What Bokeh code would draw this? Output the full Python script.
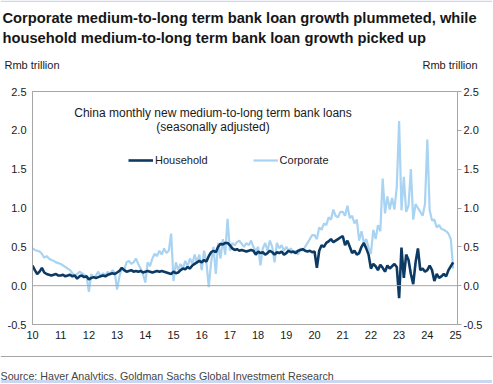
from bokeh.plotting import figure
from bokeh.layouts import column
from bokeh.models import Range1d, LinearAxis, FixedTicker, Span, Label, Legend, LegendItem, BoxAnnotation, ColumnDataSource
from bokeh.embed import file_html
from bokeh.resources import INLINE

start_year = 2010
household = [
    0.26, 0.20, 0.15, 0.18, 0.23, 0.17, 0.15, 0.14, 0.13, 0.14, 0.15, 0.13,
    0.13, 0.14, 0.12, 0.13, 0.14, 0.12, 0.13, 0.09, 0.12, 0.13, 0.11, 0.12,
    0.08, 0.10, 0.11, 0.10, 0.11, 0.12, 0.13, 0.12, 0.14, 0.15, 0.16, 0.15,
    0.17, 0.19, 0.23, 0.20, 0.18, 0.19, 0.20, 0.18, 0.19, 0.18, 0.19, 0.17,
    0.18, 0.19, 0.18, 0.17, 0.18, 0.19, 0.18, 0.19, 0.18, 0.17, 0.16, 0.15,
    0.18, 0.16, 0.17, 0.20, 0.22, 0.21, 0.24, 0.22, 0.26, 0.28, 0.30, 0.32,
    0.30, 0.33, 0.31, 0.38, 0.43, 0.45, 0.43, 0.50, 0.54, 0.53, 0.55, 0.55,
    0.52, 0.48, 0.46, 0.47, 0.45, 0.46, 0.45, 0.44, 0.45, 0.46, 0.45, 0.40,
    0.44, 0.42, 0.43, 0.40, 0.42, 0.45, 0.43, 0.40, 0.43, 0.42, 0.44, 0.40,
    0.42, 0.45, 0.43, 0.44, 0.42, 0.45, 0.46, 0.47, 0.45, 0.44, 0.45, 0.43,
    0.44, 0.23, 0.45, 0.52, 0.50, 0.55, 0.57, 0.60, 0.56, 0.58, 0.60, 0.62,
    0.64, 0.52, 0.58, 0.50, 0.42, 0.45, 0.40, 0.42, 0.50, 0.55, 0.48, 0.40,
    0.22, 0.28, 0.25, 0.20, 0.27, 0.23, 0.18, 0.26, 0.22, 0.25, 0.28, 0.24,
    -0.16, 0.49, 0.10, 0.40, 0.33, 0.15, 0.02, 0.30, 0.48, 0.20, 0.22, 0.18,
    0.20, 0.26, 0.20, 0.06, 0.15, 0.10, 0.12, 0.15, 0.12, 0.20, 0.25, 0.30,
]
corporate = [
    0.48, 0.46, 0.45, 0.44, 0.41, 0.36, 0.38, 0.35, 0.33, 0.32, 0.30, 0.29,
    0.28, 0.26, 0.24, 0.22, 0.20, 0.16, 0.13, 0.15, 0.18, 0.16, 0.14, 0.12,
    -0.08, 0.15, 0.10, 0.13, 0.18, 0.12, 0.16, 0.13, 0.18, 0.14, 0.20, 0.17,
    -0.05, 0.12, 0.23, 0.20, 0.30, 0.32, 0.28, 0.30, 0.35, 0.28, 0.22, 0.15,
    0.04, 0.30, 0.25, 0.35, 0.41, 0.38, 0.45, 0.40, 0.48, 0.42, 0.45, 0.67,
    0.06, 0.30, 0.20, 0.28, 0.22, 0.32, 0.25, 0.35, 0.28, 0.40, 0.30, 0.40,
    0.20, 0.45, 0.30, -0.02, 0.30, 0.50, 0.15, 0.55, 0.35, 0.60, 0.40, 0.86,
    0.45, 0.55, 0.52, 0.56, 0.58, 0.54, 0.50, 0.55, 0.52, 0.58, 0.50, 0.45,
    0.50, 0.26, 0.48, 0.55, 0.45, 0.58, 0.50, 0.30, 0.55, 0.48, 0.52, 0.45,
    0.50, 0.45, 0.48, 0.42, 0.45, 0.40, 0.48, 0.45, 0.50, 0.55, 0.60, 0.65,
    0.65, 0.60, 0.75, 0.72, 0.80, 0.78, 0.88, 0.85, 0.98, 0.90, 0.88, 0.95,
    0.95, 0.90, 1.03, 0.87, 0.90, 0.80, 0.85, 0.58, 0.70, 0.55, 0.60, 0.49,
    0.41, 0.72, 0.60, 0.78, 0.70, 1.38, 0.93, 1.15, 0.98, 1.13, 0.98, 1.27,
    2.12, 0.97, 1.40, 0.95, 1.03, 1.50, 0.85, 1.05, 1.00, 0.95, 0.90, 1.05,
    1.88, 0.97, 0.84, 0.85, 0.75, 0.78, 0.73, 0.72, 0.70, 0.67, 0.60, 0.22,
]
x_ticks = list(range(2010, 2026))
x_tick_labels = ["10", "11", "12", "13", "14", "15", "16", "17", "18", "19",
                 "20", "21", "22", "23", "24", "25"]
y_ticks = [-0.5, 0.0, 0.5, 1.0, 1.5, 2.0, 2.5]
y_tick_labels = ["-0.5", "0.0", "0.5", "1.0", "1.5", "2.0", "2.5"]
title_lines = ["Corporate medium-to-long term bank loan growth plummeted, while",
               "household medium-to-long term bank loan growth picked up"]
unit_label = "Rmb trillion"
chart_note = ["China monthly new medium-to-long term bank loans", "(seasonally adjusted)"]
source_text = "Source: Haver Analytics, Goldman Sachs Global Investment Research"

months = [start_year + i / 12 for i in range(len(household))]
src = ColumnDataSource(dict(x=months, hh=household, corp=corporate))

W = 492
AX = "#a6a6a6"
FONT = "Liberation Sans"
BAND = "#c8d8f0"


def blank(height):
    f = figure(width=W, height=height, output_backend="svg", toolbar_location=None,
               x_range=Range1d(0, W), y_range=Range1d(height, 0),
               x_axis_type=None, y_axis_type=None, frame_align=False,
               min_border=0, min_border_left=0, min_border_right=0,
               min_border_top=0, min_border_bottom=0)
    f.grid.visible = False
    f.outline_line_color = None
    f.background_fill_color = "white"
    f.border_fill_color = "white"
    return f


def lab(f, text, x, y, size, font=FONT, style="normal", align="left",
        baseline="middle", color="#1a1a1a", units="data"):
    f.add_layout(Label(x=x, y=y, x_units=units, y_units=units, text=text,
                       text_font=font, text_font_size=size, text_font_style=style,
                       text_align=align, text_baseline=baseline, text_color=color))


# ---------- header ----------
H1 = 76
head = blank(H1)
head.add_layout(BoxAnnotation(top=0, bottom=1.5, fill_color=BAND, fill_alpha=1, line_alpha=0))
lab(head, title_lines[0], 2, 17, "14.7px", style="bold", baseline="alphabetic", color="#161616")
lab(head, title_lines[1], 2, 37, "14.7px", style="bold", baseline="alphabetic", color="#161616")
lab(head, unit_label, 4, 64, "11px")
lab(head, unit_label, 477, 64, "11px", align="right")

# ---------- main chart ----------
H2 = 274
p = figure(width=W, height=H2, output_backend="svg", toolbar_location=None,
           x_range=Range1d(2010, 2025.07), y_range=Range1d(-0.5, 2.5), frame_align=False,
           min_border_left=32, min_border_right=W - 457, min_border_top=15, min_border_bottom=26)
p.grid.visible = False
p.outline_line_color = AX
p.background_fill_color = "white"
p.border_fill_color = "white"

xa = p.xaxis[0]
xa.ticker = FixedTicker(ticks=x_ticks)
xa.major_label_overrides = {t: l for t, l in zip(x_ticks, x_tick_labels)}
xa.major_tick_line_color = None
xa.major_tick_out = 0
xa.major_tick_in = 0
xa.minor_tick_line_color = None
xa.axis_line_color = AX
xa.major_label_standoff = 6
xa.major_label_text_font = FONT
xa.major_label_text_font_size = "11px"
xa.major_label_text_color = "#1a1a1a"

ya = p.yaxis[0]
ya.ticker = FixedTicker(ticks=y_ticks)
ya.major_label_overrides = {t: l for t, l in zip(y_ticks, y_tick_labels)}
ya.major_tick_line_color = None
ya.major_tick_out = 0
ya.major_tick_in = 0
ya.minor_tick_line_color = None
ya.axis_line_color = AX
ya.major_label_standoff = 6
ya.major_label_text_font = FONT
ya.major_label_text_font_size = "11px"
ya.major_label_text_color = "#1a1a1a"

yr = LinearAxis(ticker=FixedTicker(ticks=y_ticks),
                major_label_overrides={t: l for t, l in zip(y_ticks, y_tick_labels)},
                major_tick_out=4, major_tick_in=0, major_tick_line_color=AX,
                minor_tick_line_color=None, axis_line_color=AX, major_label_standoff=2,
                major_label_text_font=FONT, major_label_text_font_size="11px",
                major_label_text_color="#1a1a1a")
p.add_layout(yr, "right")

p.add_layout(Span(location=0, dimension="width", line_color=AX, line_width=1))

r_corp = p.line("x", "corp", source=src, line_color="#a9d3f2", line_width=2.2)
r_hh = p.line("x", "hh", source=src, line_color="#0d3a63", line_width=2.6)

legend = Legend(items=[LegendItem(label="Household", renderers=[r_hh]),
                       LegendItem(label="Corporate", renderers=[r_corp])],
                orientation="horizontal", location=(96, 157), padding=0, margin=0,
                spacing=45, label_standoff=2, glyph_width=25, glyph_height=14,
                label_height=14, label_text_font=FONT, label_text_font_size="11px",
                label_text_color="#1a1a1a",
                border_line_alpha=0, background_fill_alpha=0)
p.add_layout(legend)

lab(p, chart_note[0], 212.5, 112 - H1, "12px", align="center", units="canvas")
lab(p, chart_note[1], 212.5, 126 - H1, "12px", align="center", units="canvas")

# ---------- footer ----------
H3 = 383 - H1 - H2
foot = blank(H3)
foot.add_layout(Span(location=6, dimension="width", line_color=AX, line_width=1))
lab(foot, source_text, 0, 25, "10.7px", baseline="alphabetic", color="#444444")
foot.add_layout(BoxAnnotation(top=H3 - 3.5, bottom=H3, fill_color=BAND, fill_alpha=1, line_alpha=0))

layout = column(head, p, foot, spacing=0)
open("out.html", "w").write(file_html(layout, INLINE))
